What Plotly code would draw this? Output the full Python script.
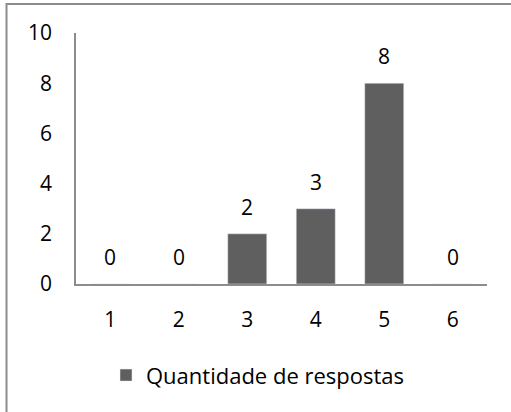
import plotly.graph_objects as go

categorias = ["1", "2", "3", "4", "5", "6"]
respostas = [0, 0, 2, 3, 8, 0]
y_ticks = [0, 2, 4, 6, 8, 10]
serie = "Quantidade de respostas"

W, H = 511, 412
ml, mr, mt, mb = 76, 24, 33, 128
pw, ph = W - ml - mr, H - mt - mb

fonte = dict(family="Open Sans, Noto Sans, sans-serif", size=21, color="#000000")

fig = go.Figure(go.Bar(
    x=categorias, y=respostas, name=serie,
    marker=dict(color="#5f5f5f"), width=0.57,
))

# value labels above bars (x given as category index)
for i, v in enumerate(respostas):
    fig.add_annotation(x=i, y=v, text=str(v), showarrow=False,
                       yanchor="bottom", yshift=11, font=fonte)

# outer chart border (cut off on right and bottom)
fig.add_shape(type="rect", xref="paper", yref="paper",
              x0=(6.5 - ml) / pw, x1=(W + 10 - ml) / pw,
              y0=-(H + 10 - mt - ph) / ph, y1=(mt - 4) / ph + 1,
              line=dict(color="#8c8c8c", width=2), layer="below")

fig.update_layout(
    width=W, height=H,
    margin=dict(l=ml, r=mr, t=mt, b=mb),
    plot_bgcolor="white", paper_bgcolor="white",
    font=fonte,
    showlegend=True,
    legend=dict(orientation="h", x=(106 - ml) / pw, xanchor="left",
                y=-0.28, yanchor="top", font=dict(fonte, size=22),
                itemwidth=30),
)
fig.update_xaxes(type="category", range=[-0.5, len(categorias) - 0.5],
                 showline=True, linecolor="#8c8c8c",
                 linewidth=1.5, ticks="", showgrid=False, zeroline=False,
                 tickfont=fonte, ticklabelstandoff=16)
fig.update_yaxes(range=[0, 10], tickvals=y_ticks, showline=True,
                 linecolor="#8c8c8c", linewidth=1.5, ticks="",
                 showgrid=False, zeroline=False, tickfont=fonte,
                 ticklabelstandoff=18)

fig.write_html("out.html", config={"displayModeBar": False},
               post_script="document.body.style.margin='0';"
                           "document.body.style.overflow='hidden';")
